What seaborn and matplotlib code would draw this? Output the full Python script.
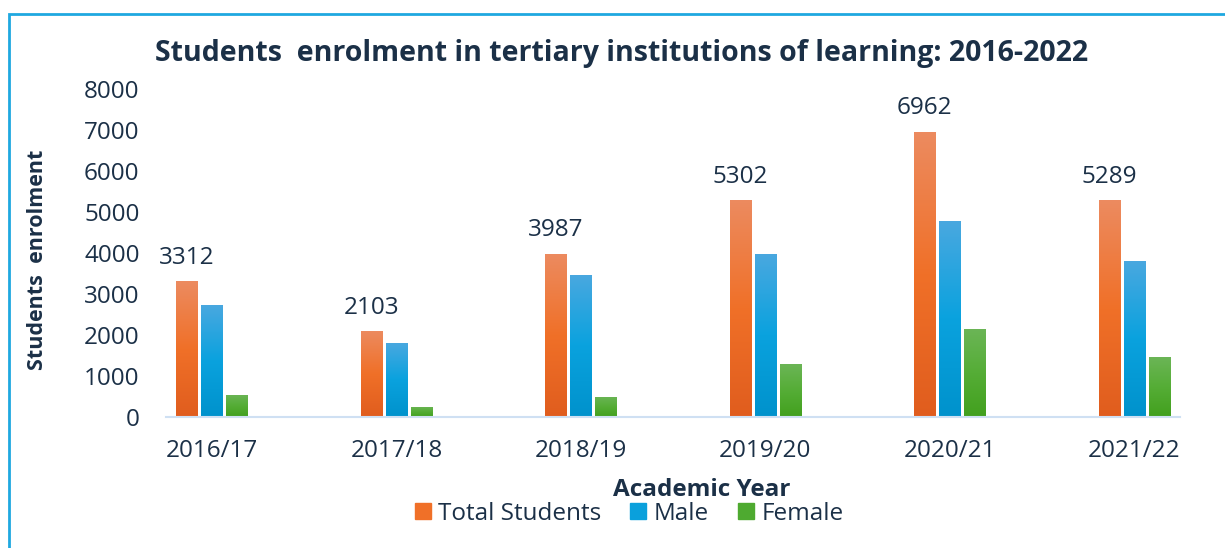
import numpy as np
import pandas as pd
import matplotlib
matplotlib.use("Agg")
import matplotlib.pyplot as plt
import seaborn as sns
from matplotlib.colors import LinearSegmentedColormap
from matplotlib.patches import Rectangle
from matplotlib.lines import Line2D

years = ["2016/17", "2017/18", "2018/19", "2019/20", "2020/21", "2021/22"]
total = [3312, 2103, 3987, 5302, 6962, 5289]
male = [2740, 1810, 3470, 3980, 4790, 3810]
female = [540, 250, 490, 1290, 2145, 1460]
series_names = ["Total Students", "Male", "Female"]
yticks = [0, 1000, 2000, 3000, 4000, 5000, 6000, 7000, 8000]

df = pd.DataFrame({
    "Year": years * 3,
    "Series": sum([[s] * len(years) for s in series_names], []),
    "Value": total + male + female,
})

TXT = "#1b3047"
FONT = ["Open Sans", "DejaVu Sans"]
FS = 17.5
mid_cols = ["#f07028", "#0aa0dc", "#4eaa30"]
grads = [("#ec8b60", "#f07028", "#e05d1e"),
         ("#4aa8e0", "#0aa2de", "#0092cc"),
         ("#6bb556", "#55ad36", "#42a01e")]

sns.set_theme(style="white")
plt.rcParams["font.family"] = FONT

fig = plt.figure(figsize=(12.25, 5.48), dpi=100)
ax = fig.add_axes([166 / 1225, 1 - 417 / 548, (1180 - 166) / 1225, (417 - 89) / 548])

sns.barplot(data=df, x="Year", y="Value", hue="Series", order=years,
            hue_order=series_names, palette=mid_cols, width=0.4065, gap=0.14,
            ax=ax, legend=False, saturation=1)

ax.set_yticks(yticks)
ax.set_yticklabels([str(t) for t in yticks])

# gradient fill on each bar
hexcols = [matplotlib.colors.to_hex(c) for c in mid_cols]
bars = [p for p in ax.patches if isinstance(p, Rectangle) and p.get_height() > 0]
for p in bars:
    idx = hexcols.index(matplotlib.colors.to_hex(p.get_facecolor()))
    top, mid, bot = grads[idx]
    cmap = LinearSegmentedColormap.from_list("g", [bot, mid, top])
    x0, y0 = p.get_x(), p.get_y()
    w, h = p.get_width(), p.get_height()
    grad = np.linspace(0, 1, 256).reshape(-1, 1)
    im = ax.imshow(grad, cmap=cmap, origin="lower", aspect="auto",
                   extent=(x0, x0 + w, y0, y0 + h), zorder=p.get_zorder() + 0.1)
    im.set_clip_path(p)
ax.set_xlim(-0.249, 5.247)
ax.set_ylim(0, 8000)

ax.bar_label(ax.containers[0], labels=[str(v) for v in total], padding=8,
             fontsize=FS, color=TXT)

for s in ["left", "right", "top"]:
    ax.spines[s].set_visible(False)
ax.spines["bottom"].set_color("#cfe0f3")
ax.spines["bottom"].set_linewidth(1.5)
ax.tick_params(axis="both", length=0, labelsize=FS, labelcolor=TXT)
ax.tick_params(axis="y", pad=19)
ax.tick_params(axis="x", pad=16)
ax.set_xlabel("")
ax.set_ylabel("")

fig.text(702 / 1225, 1 - 490 / 548, "Academic Year", ha="center", va="center",
         fontsize=FS, fontweight="bold", color=TXT)
fig.text(38 / 1225, 1 - 260 / 548, "Students  enrolment", rotation=90, ha="center",
         va="center", fontsize=15.5, fontweight="bold", color=TXT)
fig.text(622 / 1225, 1 - 54 / 548,
         "Students  enrolment in tertiary institutions of learning: 2016-2022",
         ha="center", va="center", fontsize=20.5, fontweight="bold", color=TXT)

handles = [Line2D([], [], marker="s", linestyle="", markersize=11,
                  markerfacecolor=c, markeredgecolor=c) for c in mid_cols]
fig.legend(handles, series_names, loc="center", bbox_to_anchor=(627 / 1225, 1 - 514 / 548),
           ncol=3, frameon=False, fontsize=FS, labelcolor=TXT, handletextpad=0.15,
           columnspacing=1.0, handlelength=1.0, borderpad=0.1)

fig.patches.append(Rectangle((9 / 1225, -0.1), 1.2, 1 - 14 / 548 + 0.1,
                             transform=fig.transFigure, fill=False,
                             edgecolor="#1fa8e0", linewidth=2, zorder=0))

fig.savefig("out.png", dpi=100)
